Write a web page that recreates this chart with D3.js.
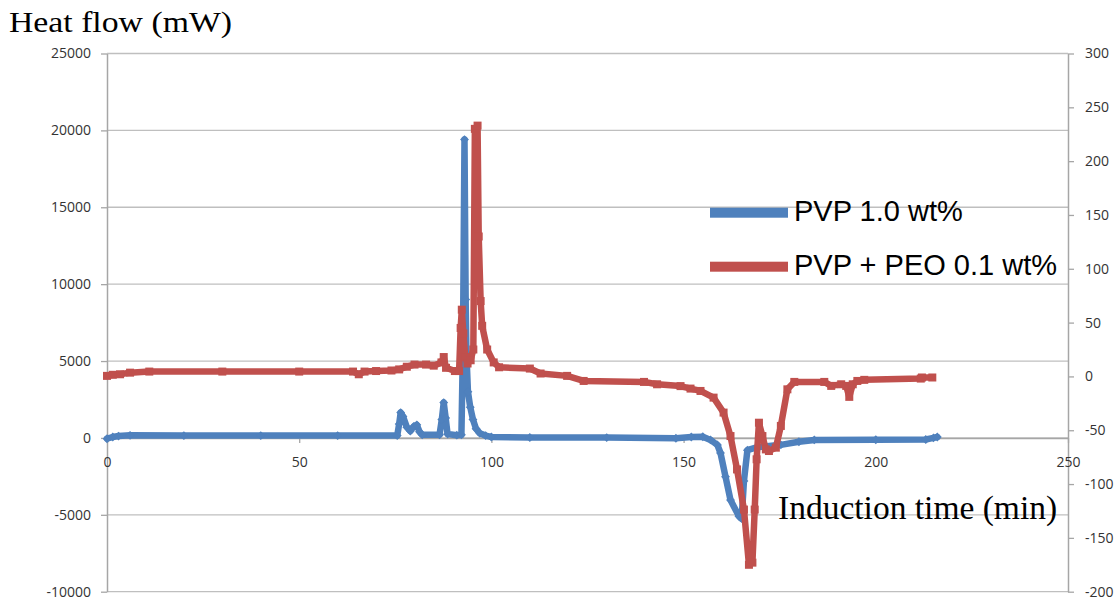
<!DOCTYPE html>
<html>
<head>
<meta charset="utf-8">
<script src="https://cdn.jsdelivr.net/npm/d3@7"></script>
<style>
  body { margin: 0; background: #fff; }
  .tick text { font-family: "Open Sans", sans-serif; font-size: 14px; fill: #333; }
</style>
</head>
<body>
<div id="wrapper"></div>
<script>
// PVP 1.0 wt% : time (min) and heat flow (mW, left axis)
const pvpTime = [0, 1.5, 3, 6, 20, 40, 60, 75.5, 76, 76.4, 77, 78, 78.9, 79.8, 80.6, 81.3, 82, 86.5, 87.1, 87.6, 88.1, 88.6, 91, 92.2, 92.6, 93.0, 93.3, 93.5, 93.9, 94.5, 95.2, 96, 97, 98.5, 100, 110, 130, 148, 152, 155, 157, 158.8, 159.6, 160.9, 162.2, 164.4, 165.1, 165.7, 166.6, 169.2, 175.3, 180, 184, 200, 213, 215, 216]
const pvpHeat = [-50, 60, 120, 170, 150, 150, 150, 150, 900, 1650, 1400, 700, 450, 750, 850, 400, 200, 200, 1200, 2300, 1300, 250, 180, 200, 6000, 19400, 9000, 5500, 3000, 2000, 1200, 600, 300, 150, 60, 30, 20, -20, 60, 80, -130, -460, -980, -2520, -4040, -5100, -5250, -2800, -800, -600, -450, -250, -130, -120, -100, 0, 60]

// PVP + PEO 0.1 wt% : time (min) and heat flow (right axis)
const peoTime = [0, 1.5, 3.4, 6, 11, 30, 50, 64, 65.5, 67, 70, 74, 76, 78, 80, 83, 85, 87, 87.6, 88.2, 90.5, 91.6, 92, 92.3, 92.7, 93.2, 93.8, 94.6, 95.3, 95.7, 96.4, 96.7, 97.2, 97.6, 98.9, 100.6, 102, 110, 112.8, 119.7, 124, 139.7, 143.1, 149.2, 151.8, 154.4, 157.8, 160.4, 162.2, 163.9, 165.7, 167.0, 167.9, 168.5, 169.0, 169.6, 170.5, 171.4, 172.2, 174.0, 175.3, 177.0, 178.8, 186.6, 188.4, 191.0, 192.3, 193.1, 194.0, 195.2, 197.0, 211.7, 212, 214.7]
const peoHeat = [0.5, 1.5, 2, 3.5, 4.5, 4.5, 4.5, 4.5, 2, 4.5, 5, 5.5, 6.5, 9, 11, 11, 10, 13, 18, 8, 5, 5, 45, 62, 40, 18, 12, 15, 25, 230, 233, 130, 70, 47, 25, 13, 8.5, 7.3, 2.7, 0.5, -4.2, -5.1, -7.3, -9, -11.3, -13.5, -19.7, -33.6, -55.4, -86.4, -123.7, -175, -173, -123.7, -77, -43, -55.4, -67.8, -69.3, -66.2, -46, -12, -5.1, -5.1, -8.8, -7.3, -8.8, -19, -7.3, -4.2, -3.2, -2, -1, -1]

const xTicks = [0, 50, 100, 150, 200, 250]
const leftTicks = [-10000, -5000, 0, 5000, 10000, 15000, 20000, 25000]
const rightTicks = [-200, -150, -100, -50, 0, 50, 100, 150, 200, 250, 300]
const seriesNames = ["PVP 1.0 wt%", "PVP + PEO 0.1 wt%"]
const seriesColors = ["#4f81bd", "#c0504d"]

const pvpData = pvpTime.map((t, i) => ({ t: t, v: pvpHeat[i] }))
const peoData = peoTime.map((t, i) => ({ t: t, v: peoHeat[i] }))

let dimensions = {
  width: 1118,
  height: 600,
  margin: { top: 53.5, right: 50, bottom: 8.3, left: 107 },
}
dimensions.boundedWidth = 1068 - dimensions.margin.left
dimensions.boundedHeight = dimensions.height - dimensions.margin.top - dimensions.margin.bottom

const wrapper = d3.select("#wrapper")
  .append("svg")
    .attr("width", dimensions.width)
    .attr("height", dimensions.height)

const bounds = wrapper.append("g")
  .attr("transform", `translate(${dimensions.margin.left},${dimensions.margin.top})`)

const xScale = d3.scaleLinear()
  .domain([0, 250])
  .range([0, dimensions.boundedWidth])

const yScale = d3.scaleLinear()
  .domain([-10000, 25000])
  .range([dimensions.boundedHeight, 0])

const y2Scale = d3.scaleLinear()
  .domain([-200, 300])
  .range([dimensions.boundedHeight, 0])

// gridlines
bounds.append("g")
  .selectAll("line")
  .data(leftTicks)
  .join("line")
    .attr("x1", 0)
    .attr("x2", dimensions.boundedWidth)
    .attr("y1", d => yScale(d))
    .attr("y2", d => yScale(d))
    .attr("stroke", "#bfbfbf")
    .attr("stroke-width", 1.3)

// plain numbers with hyphen minus, like the source chart
const plain = d => String(d)

// axes
const yAxis = bounds.append("g")
  .call(d3.axisLeft(yScale).tickValues(leftTicks).tickFormat(plain).tickSize(6).tickSizeOuter(0).tickPadding(10))
const y2Axis = bounds.append("g")
  .attr("transform", `translate(${dimensions.boundedWidth},0)`)
  .call(d3.axisRight(y2Scale).tickValues(rightTicks).tickFormat(plain).tickSize(6).tickSizeOuter(0).tickPadding(11))
const xAxis = bounds.append("g")
  .attr("transform", `translate(0,${yScale(0)})`)
  .call(d3.axisBottom(xScale).tickValues(xTicks).tickFormat(plain).tickSize(5).tickSizeOuter(0).tickPadding(14))

for (const ax of [yAxis, y2Axis, xAxis]) {
  ax.select(".domain").attr("stroke", "#a6a6a6").attr("stroke-width", 1.5)
  ax.selectAll(".tick line").attr("stroke", "#a6a6a6").attr("stroke-width", 1.3)
}

// series lines
const lineBlue = d3.line()
  .x(d => xScale(d.t))
  .y(d => yScale(d.v))
const lineRed = d3.line()
  .x(d => xScale(d.t))
  .y(d => y2Scale(d.v))

bounds.append("path")
  .attr("d", lineBlue(pvpData))
  .attr("fill", "none")
  .attr("stroke", seriesColors[0])
  .attr("stroke-width", 6.5)
  .attr("stroke-linejoin", "round")
  .attr("stroke-linecap", "round")

bounds.append("g")
  .selectAll("path")
  .data(pvpData)
  .join("path")
    .attr("d", d3.symbol(d3.symbolDiamond2, 50))
    .attr("transform", d => `translate(${xScale(d.t)},${yScale(d.v)})`)
    .attr("fill", seriesColors[0])

bounds.append("path")
  .attr("d", lineRed(peoData))
  .attr("fill", "none")
  .attr("stroke", seriesColors[1])
  .attr("stroke-width", 6.5)
  .attr("stroke-linejoin", "round")
  .attr("stroke-linecap", "round")

bounds.append("g")
  .selectAll("rect")
  .data(peoData)
  .join("rect")
    .attr("x", d => xScale(d.t) - 4)
    .attr("y", d => y2Scale(d.v) - 4)
    .attr("width", 8)
    .attr("height", 8)
    .attr("fill", seriesColors[1])

// legend
const legend = wrapper.append("g")
  .selectAll("g")
  .data(seriesNames)
  .join("g")
    .attr("transform", (d, i) => `translate(710,${212.7 + i * 54})`)

legend.append("rect")
  .attr("x", 0)
  .attr("y", -5)
  .attr("width", 78)
  .attr("height", 10)
  .attr("fill", (d, i) => seriesColors[i])

legend.append("text")
  .attr("x", 84)
  .attr("y", 8)
  .attr("font-family", "Liberation Sans, Arial, sans-serif")
  .attr("font-size", 29)
  .attr("fill", "#000")
  .text(d => d)

// axis titles
wrapper.append("text")
  .attr("x", 9)
  .attr("y", 32)
  .attr("font-family", "Liberation Serif, Times New Roman, serif")
  .attr("font-size", 30)
  .attr("textLength", 223)
  .attr("lengthAdjust", "spacingAndGlyphs")
  .text("Heat flow (mW)")

wrapper.append("text")
  .attr("x", 778)
  .attr("y", 519)
  .attr("font-family", "Liberation Serif, Times New Roman, serif")
  .attr("font-size", 33.5)
  .text("Induction time (min)")
</script>
</body>
</html>
